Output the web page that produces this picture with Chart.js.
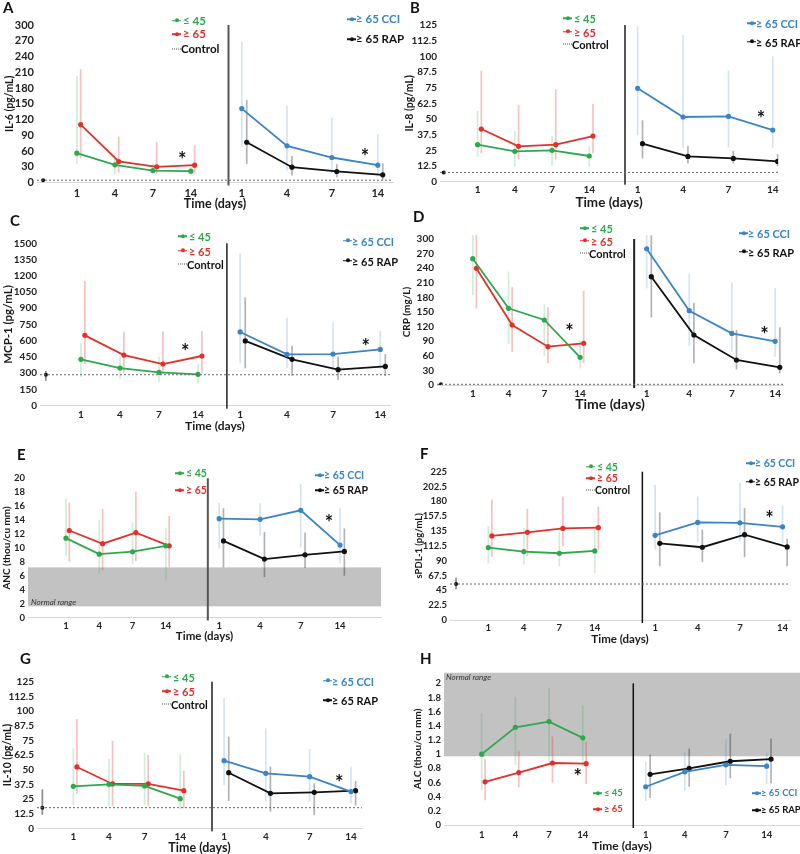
<!DOCTYPE html>
<html>
<head>
<meta charset="utf-8">
<title>Inflammatory markers by age group</title>
<script src="https://cdn.jsdelivr.net/npm/chart.js@4.4.1/dist/chart.umd.min.js"></script>
<style>
  html, body { margin: 0; padding: 0; background: #fff; }
  body { position: relative; width: 800px; height: 854px; overflow: hidden; font-family: Lato, "Open Sans", sans-serif; }
  canvas { position: absolute; }
  .txt { position: absolute; white-space: nowrap; font-weight: 700; transform: translateY(-50%); line-height: 1; }
  .mk { position: absolute; width: 9px; height: 1.5px; transform: translateY(-50%); }
  .mk i { position: absolute; left: 2.5px; top: -1.25px; width: 4px; height: 4px; border-radius: 50%; background: inherit; }
  .mk.dot { height: 0; background: none; border-top: 1px dotted #555; }
  .note { font-weight: 400; font-style: italic; color: #333; }
</style>
</head>
<body>
<script>
/* ── data ─────────────────────────────────────────── */
const days = ["1", "4", "7", "14"];
const groupNames = ["≤ 45", "≥ 65", "≥ 65 CCI", "≥ 65 RAP"];

// A  IL-6 (pg/mL)
const il6Young = [55.8, 33.6, 22.8, 21.6];
const il6YoungErr = [[35, 203], [14.6, 56], [17.8, 36.8], [14.6, 30]];
const il6Old = [110.4, 40, 29.8, 33];
const il6OldErr = [[46, 215.6], [19, 87.5], [16.5, 76.7], [16.5, 71]];
const il6Cci = [140.8, 69.8, 47.6, 33];
const il6CciErr = [[68.5, 268], [22.8, 146], [17.8, 124], [11.4, 92]];
const il6Rap = [76.7, 29.2, 21, 14.6];
const il6RapErr = [[35, 157], [13.3, 50.7], [10, 35], [5, 36.8]];
const il6Control = 4.4;

// B  IL-8 (pg/mL)
const il8Young = [29.5, 24.2, 25, 20.5];
const il8YoungErr = [[20, 56.4], [12, 40.4], [12.8, 36.4], [12, 28]];
const il8Old = [42, 28.2, 29.5, 36.4];
const il8OldErr = [[22.6, 88.6], [17.8, 61], [17.8, 73.7], [22.6, 62]];
const il8Cci = [74.5, 51.6, 52.1, 41.2];
const il8CciErr = [[37, 124], [26.6, 117], [27, 88.6], [27, 100]];
const il8Rap = [30.3, 20.2, 18.6, 16.2];
const il8RapErr = [[18.6, 49], [14.6, 28.5], [14.6, 24.7], [12.5, 22]];
const il8Control = 7.4;

// C  MCP-1 (pg/mL)
const mcpYoung = [428, 348, 308, 290];
const mcpYoungErr = [[268, 582], [246, 453], [222, 453], [206, 385]];
const mcpOld = [650, 468, 385, 459];
const mcpOldErr = [[385, 1152], [299, 684], [299, 687], [299, 690]];
const mcpCci = [681, 474, 477, 520];
const mcpCciErr = [[391, 1408], [345, 813], [345, 770], [345, 693]];
const mcpRap = [598, 428, 333, 363];
const mcpRapErr = [[345, 1001], [277, 554], [237, 453], [274, 477]];
const mcpControl = 286;
const mcpControlErr = [231, 320];

// D  CRP (mg/L)
const crpYoung = [259.6, 157.5, 133.6, 56.8];
const crpYoungErr = [[185, 308], [84, 233], [59.6, 166], [34, 92.5]];
const crpOld = [239.7, 123.3, 78.8, 85.6];
const crpOldErr = [[157.5, 308], [68.5, 200.7], [44.5, 159.6], [44.5, 193.8]];
const crpCci = [280, 152.7, 106, 89.7];
const crpCciErr = [[198.6, 308], [80, 228], [68.5, 211], [58, 198.6]];
const crpRap = [222.6, 102.7, 51.4, 36.3];
const crpRapErr = [[139, 308], [44.5, 169], [32, 113], [24, 118.5]];
const crpControl = 1.4;

// E  ANC (thou/cu mm)
const ancYoung = [11.4, 9.1, 9.45, 10.3];
const ancYoungErr = [[8.8, 17.1], [6.3, 14], [7.7, 13.7], [5.3, 12.8]];
const ancOld = [12.5, 10.6, 12.2, 10.3];
const ancOldErr = [[8, 16.5], [6.8, 15.6], [8.1, 18.1], [7.3, 14.6]];
const ancCci = [14.2, 14.1, 15.4, 10.4];
const ancCciErr = [[9.9, 16.5], [11.8, 16.4], [10.1, 19.2], [7.8, 15.7]];
const ancRap = [11, 8.4, 9, 9.5];
const ancRapErr = [[7.2, 15.7], [5.8, 12.3], [7.1, 12.2], [6, 12.8]];
const ancNormal = [1.6, 7.2];

// F  sPDL-1 (pg/mL)
const pdlYoung = [109.9, 103.8, 101.3, 104.8];
const pdlYoungErr = [[85.7, 142], [84.2, 139.5], [81.7, 134.5], [71.6, 139.5]];
const pdlOld = [127.5, 133, 139, 140];
const pdlOldErr = [[95.8, 182.3], [96.8, 168.7], [111.9, 187.3], [106.8, 172.2]];
const pdlCci = [128.4, 148, 147.4, 141.4];
const pdlCciErr = [[106.8, 204.9], [117.9, 187.3], [119.5, 208.4], [116.9, 173.2]];
const pdlRap = [116.4, 110.4, 129.5, 110.9];
const pdlRapErr = [[81.7, 163.2], [87.7, 137], [95.3, 169.7], [81.7, 123.2]];
const pdlControl = 54.6;
const pdlControlErr = [46.5, 64];

// G  IL-10 (pg/mL)
const il10Young = [35.8, 37.5, 36.1, 25.3];
const il10YoungErr = [[19.9, 68.2], [18.5, 59], [19.9, 64.5], [16.2, 63]];
const il10Old = [52.3, 37.8, 37.8, 32.1];
const il10OldErr = [[29.3, 93.2], [19, 74.7], [19, 62.5], [17, 48.9]];
const il10Cci = [57.7, 46.9, 44, 31.3];
const il10CciErr = [[36.9, 111.4], [22.7, 85.2], [22.7, 67.6], [21.3, 52.6]];
const il10Rap = [47.4, 29.8, 30.7, 32.1];
const il10RapErr = [[23.3, 78.1], [14.2, 52.6], [11.4, 38.4], [19.3, 40.3]];
const il10Control = 17.6;
const il10ControlErr = [11.4, 33.2];

// H  ALC (thou/cu mm)
const alcYoung = [1.0, 1.38, 1.46, 1.23];
const alcYoungErr = [[0.49, 1.58], [0.85, 1.81], [0.89, 1.93], [0.82, 1.69]];
const alcOld = [0.61, 0.74, 0.875, 0.866];
const alcOldErr = [[0.35, 0.93], [0.53, 1.05], [0.6, 1.25], [0.58, 1.18]];
const alcCci = [0.54, 0.75, 0.85, 0.83];
const alcCciErr = [[0.34, 0.89], [0.48, 1.02], [0.56, 1.21], [0.58, 1.02]];
const alcRap = [0.715, 0.8, 0.9, 0.93];
const alcRapErr = [[0.38, 0.99], [0.54, 1.08], [0.66, 1.29], [0.59, 1.22]];
const alcNormal = [0.97, 2.15];

/* ── panel layout (page px for the plot box, axis units for x) ── */
const panels = [
  { letter: "A", lx: 3, ly: 7, x0: 0, l: 37, r: 393, t: 25, b: 182.5, yMax: 300, yStep: 30,
    xMin: -0.05, xMax: 9.32, ctrl: 0.11, right: [5.34, 6.53, 7.71, 8.92], div: 4.99, divColor: "#555", divW: 2,
    yTitle: "IL-6 (pg/mL)", yTitleX: 10, yTitleSize: 10.5, tickSize: 11, xLabY: 193.3, xTitleY: 203, xTitleSize: 12.5,
    series: [il6Young, il6Old, il6Cci, il6Rap], errs: [il6YoungErr, il6OldErr, il6CciErr, il6RapErr],
    control: il6Control, controlErr: null, stars: [[3.77, 50.7], [8.58, 55.8]],
    legL: [172, [20.7, 34.3, 49.3]], legR: [347, [19, 39]], legSize: 11.5 },
  { letter: "B", lx: 410, ly: 7, x0: 400, l: 440, r: 778, t: 25, b: 181.7, yMax: 125, yStep: 12.5,
    xMin: -0.01, xMax: 9.07, ctrl: 0.09, right: [5.3, 6.52, 7.74, 8.93], div: 4.96, divColor: "#555", divW: 2,
    yTitle: "IL-8 (pg/mL)", yTitleX: 410, yTitleSize: 10.5, tickSize: 10, xLabY: 190, xTitleY: 202, xTitleSize: 13.5,
    series: [il8Young, il8Old, il8Cci, il8Rap], errs: [il8YoungErr, il8OldErr, il8CciErr, il8RapErr],
    control: il8Control, controlErr: null, stars: [[8.61, 53.7]],
    legL: [563, [18.3, 31.7, 44.3]], legR: [747, [23.3, 41.7]], legSize: 11 },
  { letter: "C", lx: 10, ly: 220, x0: 0, l: 40, r: 390, t: 243.3, b: 405.7, yMax: 1500, yStep: 150,
    xMin: -0.05, xMax: 8.92, ctrl: 0.1, right: [5.08, 6.28, 7.46, 8.67], div: 4.74, divColor: "#222", divW: 1.5,
    yTitle: "MCP-1 (pg/mL)", yTitleX: 8, yTitleSize: 11.5, tickSize: 10, xLabY: 415, xTitleY: 425.5, xTitleSize: 12,
    series: [mcpYoung, mcpOld, mcpCci, mcpRap], errs: [mcpYoungErr, mcpOldErr, mcpCciErr, mcpRapErr],
    control: mcpControl, controlErr: mcpControlErr, stars: [[3.67, 536], [8.3, 582]],
    legL: [178, [236, 250.7, 264]], legR: [343, [240.7, 260.7]], legSize: 11 },
  { letter: "D", lx: 413, ly: 216, x0: 400, l: 437, r: 783, t: 239, b: 385, yMax: 300, yStep: 30,
    xMin: 0, xMax: 9.67, ctrl: 0.11, right: [5.86, 7.05, 8.24, 9.45], div: 5.51, divColor: "#222", divW: 2,
    yTitle: "CRP (mg/L)", yTitleX: 407, yTitleSize: 10, tickSize: 10, xLabY: 393.3, xTitleY: 404.5, xTitleSize: 14,
    series: [crpYoung, crpOld, crpCci, crpRap], errs: [crpYoungErr, crpOldErr, crpCciErr, crpRapErr],
    control: crpControl, controlErr: null, stars: [[3.7, 117.8], [9.15, 111]],
    legL: [580, [228.3, 240.7, 252.7]], legR: [739, [233.3, 251.7]], legSize: 11 },
  { letter: "E", lx: 17, ly: 454, x0: 0, l: 28, r: 381, t: 478.3, b: 617.5, yMax: 20, yStep: 2,
    xMin: -0.14, xMax: 10.46, ctrl: null, right: [5.6, 6.83, 8.05, 9.23], div: 5.26, divColor: "#555", divW: 2,
    yTitle: "ANC (thou/cu mm)", yTitleX: 7, yTitleSize: 10, tickSize: 9.5, xLabY: 625.7, xTitleY: 635.5, xTitleSize: 11.5,
    series: [ancYoung, ancOld, ancCci, ancRap], errs: [ancYoungErr, ancOldErr, ancCciErr, ancRapErr],
    control: null, band: ancNormal, bandLabel: [31, 602], stars: [[8.9, 14.2]],
    legL: [175, [473.3, 490]], legR: [315, [475, 490]], legSize: 10.5 },
  { letter: "F", lx: 420, ly: 453, x0: 400, l: 450, r: 790, t: 471.7, b: 620, yMax: 225, yStep: 22.5,
    xMin: -0.08, xMax: 9.5, ctrl: 0.09, right: [5.7, 6.9, 8.09, 9.29], div: 5.34, divColor: "#111", divW: 1.5,
    yTitle: "sPDL-1 (pg/mL)", yTitleX: 419, yTitleSize: 9.5, tickSize: 9.5, xLabY: 628.3, xTitleY: 638.5, xTitleSize: 11.5,
    series: [pdlYoung, pdlOld, pdlCci, pdlRap], errs: [pdlYoungErr, pdlOldErr, pdlCciErr, pdlRapErr],
    control: pdlControl, controlErr: pdlControlErr, stars: [[8.92, 159.6]],
    legL: [586, [466.7, 478.3, 490]], legR: [746, [463.3, 481.7]], legSize: 10.5 },
  { letter: "G", lx: 20, ly: 658, x0: 0, l: 37, r: 362, t: 681.7, b: 828.3, yMax: 125, yStep: 12.5,
    xMin: -0.02, xMax: 9.1, ctrl: 0.13, right: [5.23, 6.4, 7.63, 8.79], div: 4.89, divColor: "#555", divW: 2,
    yTitle: "IL-10 (pg/mL)", yTitleX: 8, yTitleSize: 10.5, tickSize: 10, xLabY: 837, xTitleY: 847.5, xTitleSize: 12.5,
    series: [il10Young, il10Old, il10Cci, il10Rap], errs: [il10YoungErr, il10OldErr, il10CciErr, il10RapErr],
    control: il10Control, controlErr: il10ControlErr, stars: [[8.46, 42.6]],
    legL: [162, [676.7, 691, 704]], legR: [323, [680.7, 700]], legSize: 11 },
  { letter: "H", lx: 420, ly: 658, x0: 400, l: 444, r: 800, t: 672.7, b: 825, yMax: 2.15, yStep: 0.2, divTop: 2,
    xMin: -0.12, xMax: 10.45, ctrl: null, right: [5.87, 7.03, 8.25, 9.46], div: 5.5, divColor: "#111", divW: 1.5,
    yTitle: "ALC (thou/cu mm)", yTitleX: 418, yTitleSize: 10, tickSize: 9.5, xLabY: 834.5, xTitleY: 845, xTitleSize: 12,
    series: [alcYoung, alcOld, alcCci, alcRap], errs: [alcYoungErr, alcOldErr, alcCciErr, alcRapErr],
    control: null, band: alcNormal, bandLabel: [446, 677], stars: [[3.85, 0.74]],
    legL: [593, [793.3, 809.3]], legR: [752, [793.3, 810]], legSize: 9.5 }
];

/* ── styles ───────────────────────────────────────── */
const LINE = ["#2da84e", "#e1312b", "#3b84c6", "#111111"];
const ERRC = ["rgba(45,168,78,0.22)", "rgba(225,49,43,0.3)", "rgba(59,132,198,0.22)", "rgba(0,0,0,0.3)"];
const SHIFT = [0, 0.1, 0, 0.13];
const FONT = 'Lato, "Open Sans", sans-serif';

Chart.defaults.font.family = FONT;
Chart.defaults.font.weight = "bold";
Chart.defaults.color = "#222";

function addText(str, x, y, size, color, cls) {
  const el = document.createElement("div");
  el.className = "txt" + (cls ? " " + cls : "");
  el.textContent = str;
  el.style.left = x + "px";
  el.style.top = y + "px";
  el.style.fontSize = size + "px";
  el.style.color = color;
  document.body.appendChild(el);
}

function addMarker(x, y, color, dotted) {
  const m = document.createElement("div");
  m.className = "mk" + (dotted ? " dot" : "");
  m.style.left = x + "px";
  m.style.top = y + "px";
  if (!dotted) {
    m.style.background = color;
    m.appendChild(document.createElement("i"));
  }
  document.body.appendChild(m);
}

function makeDecor(p) {
  return {
    id: "decor",
    beforeDatasetsDraw(chart) {
      const { ctx, chartArea: a, scales: { x, y } } = chart;
      ctx.save();
      if (p.band) {
        const y1 = y.getPixelForValue(p.band[1]), y0 = y.getPixelForValue(p.band[0]);
        ctx.fillStyle = "#c2c2c2";
        ctx.fillRect(a.left, y1, a.right - a.left, y0 - y1);
      }
      const dx = x.getPixelForValue(p.div);
      ctx.strokeStyle = p.divColor;
      ctx.lineWidth = p.divW;
      ctx.beginPath();
      ctx.moveTo(dx, y.getPixelForValue(p.divTop != null ? p.divTop : p.yMax));
      ctx.lineTo(dx, a.bottom + 3);
      ctx.stroke();
      ctx.lineWidth = 1.7;
      chart.data.datasets.forEach(ds => {
        if (!ds.err) return;
        ctx.strokeStyle = ds.errColor;
        ds.data.forEach((pt, i) => {
          const e = ds.err[i];
          if (!e) return;
          const px = x.getPixelForValue(pt.x);
          ctx.beginPath();
          ctx.moveTo(px, y.getPixelForValue(e[0]));
          ctx.lineTo(px, y.getPixelForValue(e[1]));
          ctx.stroke();
        });
      });
      ctx.restore();
    },
    afterDatasetsDraw(chart) {
      const { ctx, scales: { x, y } } = chart;
      ctx.save();
      ctx.fillStyle = "#111";
      ctx.font = "bold 20px " + FONT;
      ctx.textAlign = "center";
      ctx.textBaseline = "alphabetic";
      p.stars.forEach(([sx, sy]) => ctx.fillText("*", x.getPixelForValue(sx), y.getPixelForValue(sy) + 0.56 * 20));
      ctx.restore();
    }
  };
}

/* ── build ────────────────────────────────────────── */
panels.forEach(p => {
  const left = p.x0;
  const top = Math.floor(p.t - 16);
  const W = Math.min(800, Math.ceil(p.r + 8)) - left;
  const H = Math.ceil(p.xTitleY + p.xTitleSize * 0.6) - top;

  const cv = document.createElement("canvas");
  cv.width = W; cv.height = H;
  cv.style.left = left + "px"; cv.style.top = top + "px";
  cv.style.width = W + "px"; cv.style.height = H + "px";
  document.body.appendChild(cv);

  const leftX = [1, 2, 3, 4];
  const tickX = leftX.concat(p.right);
  const groupX = [leftX, leftX, p.right, p.right];

  const datasets = [];
  if (p.control != null) {
    datasets.push({ data: [{ x: p.xMin, y: p.control }, { x: p.xMax, y: p.control }], showLine: true,
      borderColor: "#6a6a6a", borderWidth: 1, borderDash: [2, 2], pointRadius: 0 });
    datasets.push({ data: [{ x: p.ctrl, y: p.control }], err: [p.controlErr], errColor: "rgba(0,0,0,0.45)",
      pointRadius: 2, pointBorderWidth: 0, backgroundColor: "#111", borderColor: "#111" });
  }
  p.series.forEach((vals, k) => {
    datasets.push({
      data: vals.map((v, i) => ({ x: groupX[k][i] + SHIFT[k], y: v })),
      err: p.errs[k], errColor: ERRC[k], showLine: true,
      borderColor: LINE[k], backgroundColor: LINE[k], borderWidth: 1.8,
      pointRadius: 2.6, pointBorderWidth: 0
    });
  });

  new Chart(cv, {
    type: "scatter",
    data: { datasets },
    options: {
      responsive: false, animation: false, devicePixelRatio: 1, events: [],
      layout: { autoPadding: false, padding: { top: p.t - top, right: W - (p.r - left), left: 0, bottom: 0 } },
      plugins: { legend: { display: false }, tooltip: { enabled: false } },
      scales: {
        x: {
          type: "linear", min: p.xMin, max: p.xMax, bounds: "data",
          afterBuildTicks: s => { s.ticks = tickX.map(v => ({ value: v })); },
          afterFit: s => { s.height = H - (p.b - top); },
          grid: { display: false, drawTicks: false },
          border: { display: true, color: "#d6d6d6", width: 1 },
          ticks: { autoSkip: false, maxRotation: 0, padding: p.xLabY - p.b - 0.6 * p.tickSize,
            font: { size: p.tickSize }, color: "#222", callback: (v, i) => days[i % 4] },
          title: { display: true, text: "Time (days)", font: { size: p.xTitleSize }, color: "#1a1a1a", padding: 0 }
        },
        y: {
          min: 0, max: p.yMax, bounds: "data",
          afterFit: s => { s.width = p.l - left; },
          grid: { display: false, drawTicks: false },
          border: { display: false },
          ticks: { stepSize: p.yStep, includeBounds: false, autoSkip: false, padding: 3,
            font: { size: p.tickSize }, color: "#222", callback: v => String(+v.toFixed(2)) },
          title: { display: true, text: p.yTitle, font: { size: p.yTitleSize }, color: "#1a1a1a",
            padding: { top: Math.max(0, p.yTitleX - left - 0.6 * p.yTitleSize), bottom: 0 } }
        }
      }
    },
    plugins: [makeDecor(p)]
  });

  // panel letter, legends, notes
  addText(p.letter, p.lx, p.ly, 15, "#111");
  const [lmx, lys] = p.legL;
  addMarker(lmx, lys[0], LINE[0]); addText(groupNames[0], lmx + 11, lys[0], p.legSize, LINE[0]);
  addMarker(lmx, lys[1], LINE[1]); addText(groupNames[1], lmx + 11, lys[1], p.legSize, LINE[1]);
  if (lys[2] != null) { addMarker(lmx, lys[2], "#555", true); addText("Control", lmx + 9, lys[2], p.legSize, "#111"); }
  const [rmx, rys] = p.legR;
  addMarker(rmx, rys[0], LINE[2]); addText(groupNames[2], rmx + 9, rys[0], p.legSize, LINE[2]);
  addMarker(rmx, rys[1], LINE[3]); addText(groupNames[3], rmx + 9, rys[1], p.legSize, LINE[3]);
  if (p.bandLabel) addText("Normal range", p.bandLabel[0], p.bandLabel[1], 8, "#333", "note");
});
</script>
</body>
</html>
